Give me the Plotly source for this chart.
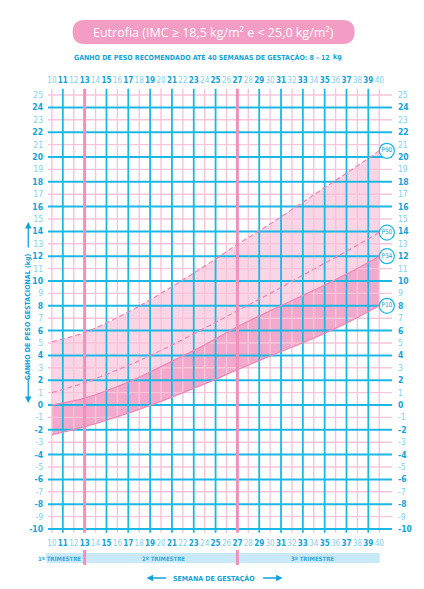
import plotly.graph_objects as go

# Gestational weight-gain curves (kg) by gestational week, eutrophic BMI
weeks = [10, 13, 17, 20, 24, 27, 30, 34, 37, 40]
p10 = [-2.4, -1.75, -0.65, 0.3, 1.7, 2.85, 3.95, 5.4, 6.6, 8.0]
p34 = [0.0, 0.55, 1.85, 3.1, 4.85, 6.3, 7.6, 9.25, 10.55, 12.0]
p50 = [1.0, 1.8, 3.2, 4.4, 6.2, 7.6, 9.0, 10.95, 12.4, 13.9]
p90 = [5.1, 5.85, 7.5, 9.0, 11.2, 12.95, 14.6, 16.95, 18.7, 20.5]

percentile_labels = ["P90", "P50", "P34", "P10"]
week_ticks = list(range(10, 41))
kg_ticks = list(range(-10, 26))
trimester_names = ["1º TRIMESTRE", "2º TRIMESTRE", "3º TRIMESTRE"]
trimester_bounds = [13, 27]

title_text = "Eutrofia (IMC ≥ 18,5 kg/m² e &lt; 25,0 kg/m²)"
subtitle_text = "GANHO DE PESO RECOMENDADO ATÉ 40 SEMANAS DE GESTAÇÃO: {:.0f} - {:.0f}".format(p10[-1], p34[-1])

# ---- styling ----
W_PX, H_PX = 424, 589
ML, MR, MT, MB = 46, 24, 88, 54
PW, PH = W_PX - ML - MR, H_PX - MT - MB
BLUE = "#1bb8e5"
PINK_THIN = "#f8c4d9"
PINK_THICK = "#f290bb"
LIGHT_FILL = "#f9d5e5"
DARK_FILL = "#f3a9cb"
CURVE = "#ef8ab7"
TXT_DARK = "#12a3dc"
TXT_LIGHT = "#80d0f0"
COND = "DejaVu Sans Condensed, Liberation Sans Narrow, sans-serif"

XR = [9.458, 41.446]
YR = [-10.484, 25.565]


def fx(px):
    return (px - ML) / PW


def fy(py):
    return (MT + PH - py) / PH


def week_label(w):
    if w % 2 == 1:
        return f'<span style="color:{TXT_DARK}"><b>{w}</b></span>'
    return f'<span style="color:{TXT_LIGHT}">{w}</span>'


def kg_label(v):
    if v % 2 == 0:
        return f'<span style="color:{TXT_DARK}"><b>{v}</b></span>'
    return f'<span style="color:{TXT_LIGHT}">{v}</span>'


fig = go.Figure()

# filled bands
fig.add_trace(go.Scatter(x=weeks, y=p34, mode="lines", line=dict(width=0, shape="spline"),
                         hoverinfo="skip", showlegend=False))
fig.add_trace(go.Scatter(x=weeks, y=p90, mode="lines", line=dict(width=0, shape="spline"),
                         fill="tonexty", fillcolor=LIGHT_FILL, hoverinfo="skip", showlegend=False))
fig.add_trace(go.Scatter(x=weeks, y=p10, mode="lines", line=dict(width=0, shape="spline"),
                         hoverinfo="skip", showlegend=False))
fig.add_trace(go.Scatter(x=weeks, y=p34, mode="lines", line=dict(width=0, shape="spline"),
                         fill="tonexty", fillcolor=DARK_FILL, hoverinfo="skip", showlegend=False))

# grid lines drawn as traces so they sit above the bands
GX = [9.64, 41.17]
GY = [-10.3, 25.5]


def hlines(vals):
    xs, ys = [], []
    for v in vals:
        xs += [GX[0], GX[1], None]
        ys += [v, v, None]
    return xs, ys


def vlines(vals):
    xs, ys = [], []
    for v in vals:
        xs += [v, v, None]
        ys += [GY[0], GY[1], None]
    return xs, ys


grid_sets = [
    (hlines([v for v in kg_ticks if v % 2]), PINK_THIN, 1.4),
    (vlines([w for w in week_ticks if w % 2 == 0]), PINK_THIN, 1.4),
    (hlines([v for v in kg_ticks if v % 2 == 0]), BLUE, 2.0),
    (vlines([w for w in week_ticks if w % 2 and w not in trimester_bounds]), BLUE, 1.8),
    (vlines(trimester_bounds), PINK_THICK, 3.0),
]
for (xs, ys), col, wd in grid_sets:
    fig.add_trace(go.Scatter(x=xs, y=ys, mode="lines", line=dict(color=col, width=wd),
                             hoverinfo="skip", showlegend=False, connectgaps=False))

# percentile curves
for vals, dash in [(p90, "dash"), (p50, "dash"), (p34, "solid"), (p10, "solid")]:
    fig.add_trace(go.Scatter(x=weeks, y=vals, mode="lines",
                             line=dict(color=CURVE, width=1.3, dash="5px,3px" if dash == "dash" else "solid",
                                       shape="spline"),
                             hoverinfo="skip", showlegend=False))

# percentile tags at the end of each curve
ends = [p90[-1], p50[-1], p34[-1], p10[-1]]
fig.add_trace(go.Scatter(x=[weeks[-1] + 0.7] * 4, y=ends, mode="markers+text",
                         text=percentile_labels, textposition="middle center",
                         textfont=dict(family=COND, size=6.5, color=TXT_DARK),
                         marker=dict(size=15, color="white", line=dict(color=BLUE, width=1.2)),
                         hoverinfo="skip", showlegend=False, cliponaxis=False))

# anchor trace for the mirrored top/right axes
fig.add_trace(go.Scatter(x=[weeks[0]], y=[p10[0]], xaxis="x2", yaxis="y2", mode="markers",
                         marker=dict(opacity=0), hoverinfo="skip", showlegend=False))

xcommon = dict(range=XR, tickvals=week_ticks, ticktext=[week_label(w) for w in week_ticks],
               showgrid=False, zeroline=False, ticks="", tickfont=dict(family=COND, size=8),
               fixedrange=True, tickangle=0, ticklabelstandoff=2)
ycommon = dict(range=YR, tickvals=kg_ticks, ticktext=[kg_label(v) for v in kg_ticks],
               showgrid=False, zeroline=False, ticks="", tickfont=dict(family=COND, size=8.5),
               fixedrange=True, ticklabelstandoff=2)

shapes = []
annotations = []


def note(text, px, py, size, color=TXT_DARK, family=COND, **kw):
    annotations.append(dict(text=text, x=fx(px), y=fy(py), xref="paper", yref="paper",
                            xanchor="center", yanchor="middle", showarrow=False,
                            font=dict(family=family, size=size, color=color), **kw))


def arrow(hx, hy, ax, ay):
    annotations.append(dict(text="", x=fx(hx), y=fy(hy), xref="paper", yref="paper", showarrow=True,
                            ax=ax, ay=ay, arrowhead=2, arrowsize=1, arrowwidth=1.3,
                            arrowcolor=TXT_DARK, standoff=0, startstandoff=0))


# title pill
x0, x1, y0, y1, r = 73, 359, 20, 44, 12
pts = [("M", x0 + r, y0), ("L", x1 - r, y0), ("Q", x1, y0, x1, y0 + r), ("L", x1, y1 - r),
       ("Q", x1, y1, x1 - r, y1), ("L", x0 + r, y1), ("Q", x0, y1, x0, y1 - r), ("L", x0, y0 + r),
       ("Q", x0, y0, x0 + r, y0)]
path = ""
for p in pts:
    cmd, coords = p[0], p[1:]
    pairs = [f"{fx(coords[i]):.5f},{fy(coords[i + 1]):.5f}" for i in range(0, len(coords), 2)]
    path += cmd + " " + " ".join(pairs) + " "
path += "Z"
shapes.append(dict(type="path", path=path, xref="paper", yref="paper", fillcolor="#f39cc4",
                   line=dict(width=0), layer="above"))
note(title_text, 216, 32, 12.5, color="white", family="Open Sans")
note(f"<b>{subtitle_text}</b>", 204, 57, 7)
note("<b>kg</b>", 342, 57, 7)

# y-axis title with arrows
note("<b>GANHO DE PESO GESTACIONAL (kg)</b>", 28, 317, 7, textangle=-90)
arrow(28, 222, 0, 27)
arrow(28, 403, 0, -26)

# x-axis title with arrows
note("<b>SEMANA DE GESTAÇÃO</b>", 216, 578, 7)
arrow(148, 578, 21, 0)
arrow(286, 578, -21, 0)

# trimester strip
TB0, TB1 = fy(563), fy(553)
shapes.append(dict(type="rect", xref="x", yref="paper", x0=9.64, x1=40.05, y0=TB0, y1=TB1,
                   fillcolor="#c9e9f8", line=dict(width=0), layer="above"))
for i in range(6):
    xa = 8.3 + i * 0.225
    shapes.append(dict(type="rect", xref="x", yref="paper", x0=xa, x1=xa + 0.225, y0=TB0, y1=TB1,
                       fillcolor="#c9e9f8", opacity=(i + 1) / 7, line=dict(width=0), layer="above"))
for b in trimester_bounds:
    shapes.append(dict(type="line", xref="x", yref="paper", x0=b, x1=b, y0=fy(565), y1=fy(550),
                       line=dict(color=PINK_THICK, width=3), layer="above"))
tri_centres = [10.72, 20.2, 33.85]
for name, c in zip(trimester_names, tri_centres):
    annotations.append(dict(text=f"<b>{name}</b>", x=c, y=fy(558), xref="x", yref="paper",
                            xanchor="center", yanchor="middle", showarrow=False,
                            font=dict(family=COND, size=6, color="#3aa8dc")))

fig.update_layout(
    width=W_PX, height=H_PX,
    margin=dict(l=ML, r=MR, t=MT, b=MB, pad=0),
    paper_bgcolor="white", plot_bgcolor="white",
    xaxis=dict(**xcommon, side="bottom"),
    xaxis2=dict(**xcommon, side="top", overlaying="x", matches="x"),
    yaxis=dict(**ycommon, side="left"),
    yaxis2=dict(**ycommon, side="right", overlaying="y", matches="y"),
    shapes=shapes, annotations=annotations,
    showlegend=False,
)

fig.write_html("out.html")
